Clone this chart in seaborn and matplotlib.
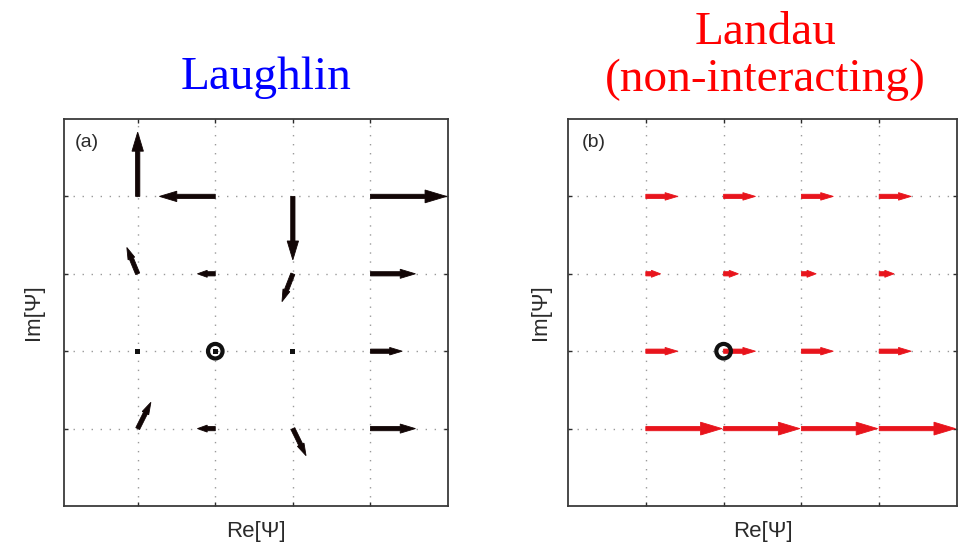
import numpy as np
import pandas as pd
import matplotlib
matplotlib.use("Agg")
import matplotlib.pyplot as plt
import seaborn as sns

# ---------------- data ----------------
grid_ticks = [1, 2, 3, 4]

# Laughlin panel: arrow origins and components (data units)
laughlin_x = [1, 2, 3, 4, 1, 2, 3, 4, 1, 2, 3, 4, 1, 2, 3, 4]
laughlin_y = [4, 4, 4, 4, 3, 3, 3, 3, 2, 2, 2, 2, 1, 1, 1, 1]
laughlin_u = [0.0, -0.72, 0.0, 0.98,
              -0.14, -0.23, -0.14, 0.58,
              0.0, 0.0, 0.0, 0.41,
              0.17, -0.23, 0.17, 0.58]
laughlin_v = [0.83, 0.0, -0.82, 0.0,
              0.34, 0.0, -0.36, 0.0,
              0.0, 0.0, 0.0, 0.0,
              0.34, 0.0, -0.35, 0.0]

# Landau panel
landau_x = [1, 2, 3, 4, 1, 2, 3, 4, 1, 2, 3, 4, 1, 2, 3, 4]
landau_y = [4, 4, 4, 4, 3, 3, 3, 3, 2, 2, 2, 2, 1, 1, 1, 1]
landau_u = [0.41, 0.41, 0.41, 0.41,
            0.19, 0.19, 0.19, 0.19,
            0.41, 0.41, 0.41, 0.41,
            0.98, 0.98, 0.98, 0.98]
landau_v = [0.0] * 16

# reference (circle) point
center_x = [2]
center_y = [2]

titles_left = ["Laughlin"]
titles_right = ["Landau", "(non-interacting)"]
panel_labels = ["(a)", "(b)"]
xlabel = "Re[\u03a8]"
ylabel = "Im[\u03a8]"

# ---------------- style ----------------
sns.set_style("white")
plt.rcParams['font.family'] = ['Liberation Sans', 'DejaVu Sans']

W, H = 965, 544
fig = plt.figure(figsize=(W / 100, H / 100), dpi=100)
axL = fig.add_axes([64 / W, 1 - 506 / H, 384 / W, 387 / H])
axR = fig.add_axes([568 / W, 1 - 506 / H, 389 / W, 387 / H])

ink = "#2b2b2b"


def style_axes(ax, xlim):
    ax.set_xlim(*xlim)
    ax.set_ylim(0, 5)
    ax.set_xticks(grid_ticks)
    ax.set_yticks(grid_ticks)
    ax.set_xticklabels([])
    ax.set_yticklabels([])
    ax.tick_params(direction="in", length=3, width=1, color=ink,
                   top=True, right=True, bottom=True, left=True)
    ax.grid(True, linestyle=(0, (1, 5.5)), color="#9a9a9a", linewidth=1.0)
    for s in ax.spines.values():
        s.set_color("#3a3a3a")
        s.set_linewidth(1.3)


def draw_arrows(ax, xs, ys, us, vs, color, zorder=3):
    for x, y, u, v in zip(xs, ys, us, vs):
        L = np.hypot(u, v)
        if L < 1e-9:
            continue
        hl = min(0.28, 0.08 + 0.2 * L)
        hw = max(0.6 * hl, 0.09)
        ax.arrow(x, y, u, v, width=0.055, head_width=hw, head_length=hl,
                 length_includes_head=True, fc=color, ec=color, lw=0.6,
                 zorder=zorder)


style_axes(axL, (0.05, 5.0))
style_axes(axR, (0.0, 5.0))

# Laughlin arrows
draw_arrows(axL, laughlin_x, laughlin_y, laughlin_u, laughlin_v, "#120606")

# zero-length vectors drawn as small dots
dfL = pd.DataFrame({"x": laughlin_x, "y": laughlin_y,
                    "u": laughlin_u, "v": laughlin_v})
dots = dfL[(dfL.u == 0) & (dfL.v == 0)]
sns.scatterplot(data=dots, x="x", y="y", ax=axL, marker="s", s=12,
                color="#111111", edgecolor="none", zorder=4, legend=False)

# Landau arrows
draw_arrows(axR, landau_x, landau_y, landau_u, landau_v, "#e8141c")

# reference circles
dfC = pd.DataFrame({"x": center_x, "y": center_y})
sns.scatterplot(data=dfC, x="x", y="y", ax=axL, marker="o", s=110,
                facecolor="none", edgecolor="#111111", linewidth=3,
                zorder=5, legend=False)
sns.scatterplot(data=dfC, x="x", y="y", ax=axR, marker="o", s=110,
                facecolor="none", edgecolor="#111111", linewidth=3,
                zorder=5, legend=False)

for ax in (axL, axR):
    ax.set_xlabel(xlabel, fontsize=16, color=ink)
    ax.set_ylabel(ylabel, fontsize=16, color=ink)

axL.yaxis.set_label_coords(-0.052, 0.5)
axR.yaxis.set_label_coords(-0.044, 0.5)
axL.xaxis.set_label_coords(0.5, -0.040)
axR.xaxis.set_label_coords(0.5, -0.040)

axL.text(0.029, 0.962, panel_labels[0], transform=axL.transAxes,
         ha="left", va="top", fontsize=14, color=ink)
axR.text(0.035, 0.962, panel_labels[1], transform=axR.transAxes,
         ha="left", va="top", fontsize=14, color=ink)

serif = ['Liberation Serif', 'DejaVu Serif']
fig.text(266 / W, 1 - 89 / H, titles_left[0], ha="center", va="baseline",
         fontsize=34, color="#0000ff", family=serif)
fig.text(766 / W, 1 - 44 / H, titles_right[0], ha="center", va="baseline",
         fontsize=34, color="#ff0000", family=serif)
fig.text(765 / W, 1 - 91 / H, titles_right[1], ha="center", va="baseline",
         fontsize=34, color="#ff0000", family=serif)

fig.savefig("out.png", dpi=100)
